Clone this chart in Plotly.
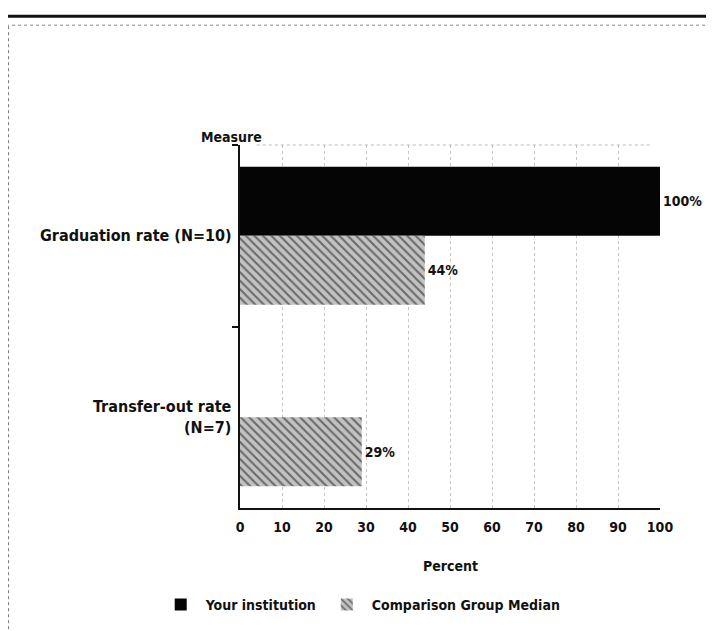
import plotly.graph_objects as go

# ---- data ----
measures = ["Graduation rate (N=10)", "Transfer-out rate (N=7)"]
measure_labels = ["Graduation rate (N=10)", "Transfer-out rate<br>(N=7)"]
institution = [100, None]
comparison_median = [44, 29]
series_names = ["Your institution", "Comparison Group Median"]
x_ticks = [0, 10, 20, 30, 40, 50, 60, 70, 80, 90, 100]

FONT = "DejaVu Sans Condensed, DejaVu Sans, Liberation Sans Narrow, sans-serif"
fs = 14

fig = go.Figure()
fig.add_trace(go.Bar(
    y=measures, x=institution, orientation="h", name=f"<b>{series_names[0]}</b>",
    marker=dict(color="#050505", line=dict(width=0)),
    text=[f"<b>{v}%</b>" if v is not None else "" for v in institution],
    textposition="outside", cliponaxis=False,
    textfont=dict(family=FONT, size=fs, color="#111"),
))
fig.add_trace(go.Bar(
    y=measures, x=comparison_median, orientation="h", name=f"<b>{series_names[1]}</b>",
    marker=dict(color="#c8c8c8", line=dict(width=0),
                pattern=dict(shape="\\", fgcolor="#111111", bgcolor="#c2c2c2",
                             size=6, solidity=0.35)),
    text=[f"<b>{v}%</b>" for v in comparison_median],
    textposition="outside", cliponaxis=False,
    textfont=dict(family=FONT, size=fs, color="#111"),
))

# y-axis category labels as annotations, centred on each category
for m, lab in zip(measures, measure_labels):
    fig.add_annotation(x=0, y=m, xref="x", yref="y", text=f"<b>{lab}</b>",
                       showarrow=False, xanchor="right", yanchor="middle",
                       align="right", xshift=-6, yshift=0,
                       font=dict(family=FONT, size=16, color="#111"))

fig.add_annotation(x=0, y=1, xref="paper", yref="paper", text="<b>Measure</b>",
                   showarrow=False, xanchor="center", yanchor="middle",
                   xshift=-9, yshift=8, font=dict(family=FONT, size=fs, color="#111"))
fig.add_annotation(x=0.5, y=0, xref="paper", yref="paper", text="<b>Percent</b>",
                   showarrow=False, xanchor="center", yanchor="middle",
                   yshift=-58, font=dict(family=FONT, size=fs, color="#111"))

# page border decoration (scan frame)
fig.add_shape(type="line", xref="paper", yref="paper", x0=-0.6, x1=1.2, y0=1.355, y1=1.355,
              line=dict(color="#111", width=3))
fig.add_shape(type="line", xref="paper", yref="paper", x0=-0.6, x1=1.2, y0=1.33, y1=1.33,
              line=dict(color="#888", width=1, dash="dot"))
fig.add_shape(type="line", xref="paper", yref="paper", x0=-0.551, x1=-0.551, y0=-0.4, y1=1.33,
              line=dict(color="#777", width=1, dash="dot"))
# top dotted boundary line of the plot area
fig.add_shape(type="line", xref="paper", yref="paper", x0=0.04, x1=0.98, y0=1, y1=1,
              line=dict(color="#bbbbbb", width=1, dash="dot"))

fig.update_layout(
    width=714, height=631,
    margin=dict(l=232, r=62, t=137, b=131),
    paper_bgcolor="white", plot_bgcolor="white",
    barmode="group", bargap=0.24, bargroupgap=0,
    showlegend=True,
    legend=dict(orientation="h", xref="container", yref="container",
                x=0.494, xanchor="center", y=0.054, yanchor="middle",
                font=dict(family=FONT, size=fs, color="#111"),
                itemwidth=40, traceorder="normal"),
    font=dict(family=FONT, size=fs, color="#111"),
    xaxis=dict(range=[0, 100], tickvals=x_ticks,
               ticktext=[f"<b>{t}</b>" for t in x_ticks],
               showgrid=True, gridcolor="#c4c4c4", griddash="dot", gridwidth=1,
               showline=True, linecolor="#111", linewidth=2,
               ticks="", ticklabelstandoff=5, zeroline=False,
               tickfont=dict(family=FONT, size=fs, color="#111")),
    yaxis=dict(categoryorder="array", categoryarray=measures, autorange="reversed",
               showticklabels=False, tickson="boundaries", ticks="outside",
               ticklen=6, tickwidth=2, tickcolor="#111",
               showline=True, linecolor="#111", linewidth=2, showgrid=False,
               zeroline=False),
)

fig.write_html("out.html")
